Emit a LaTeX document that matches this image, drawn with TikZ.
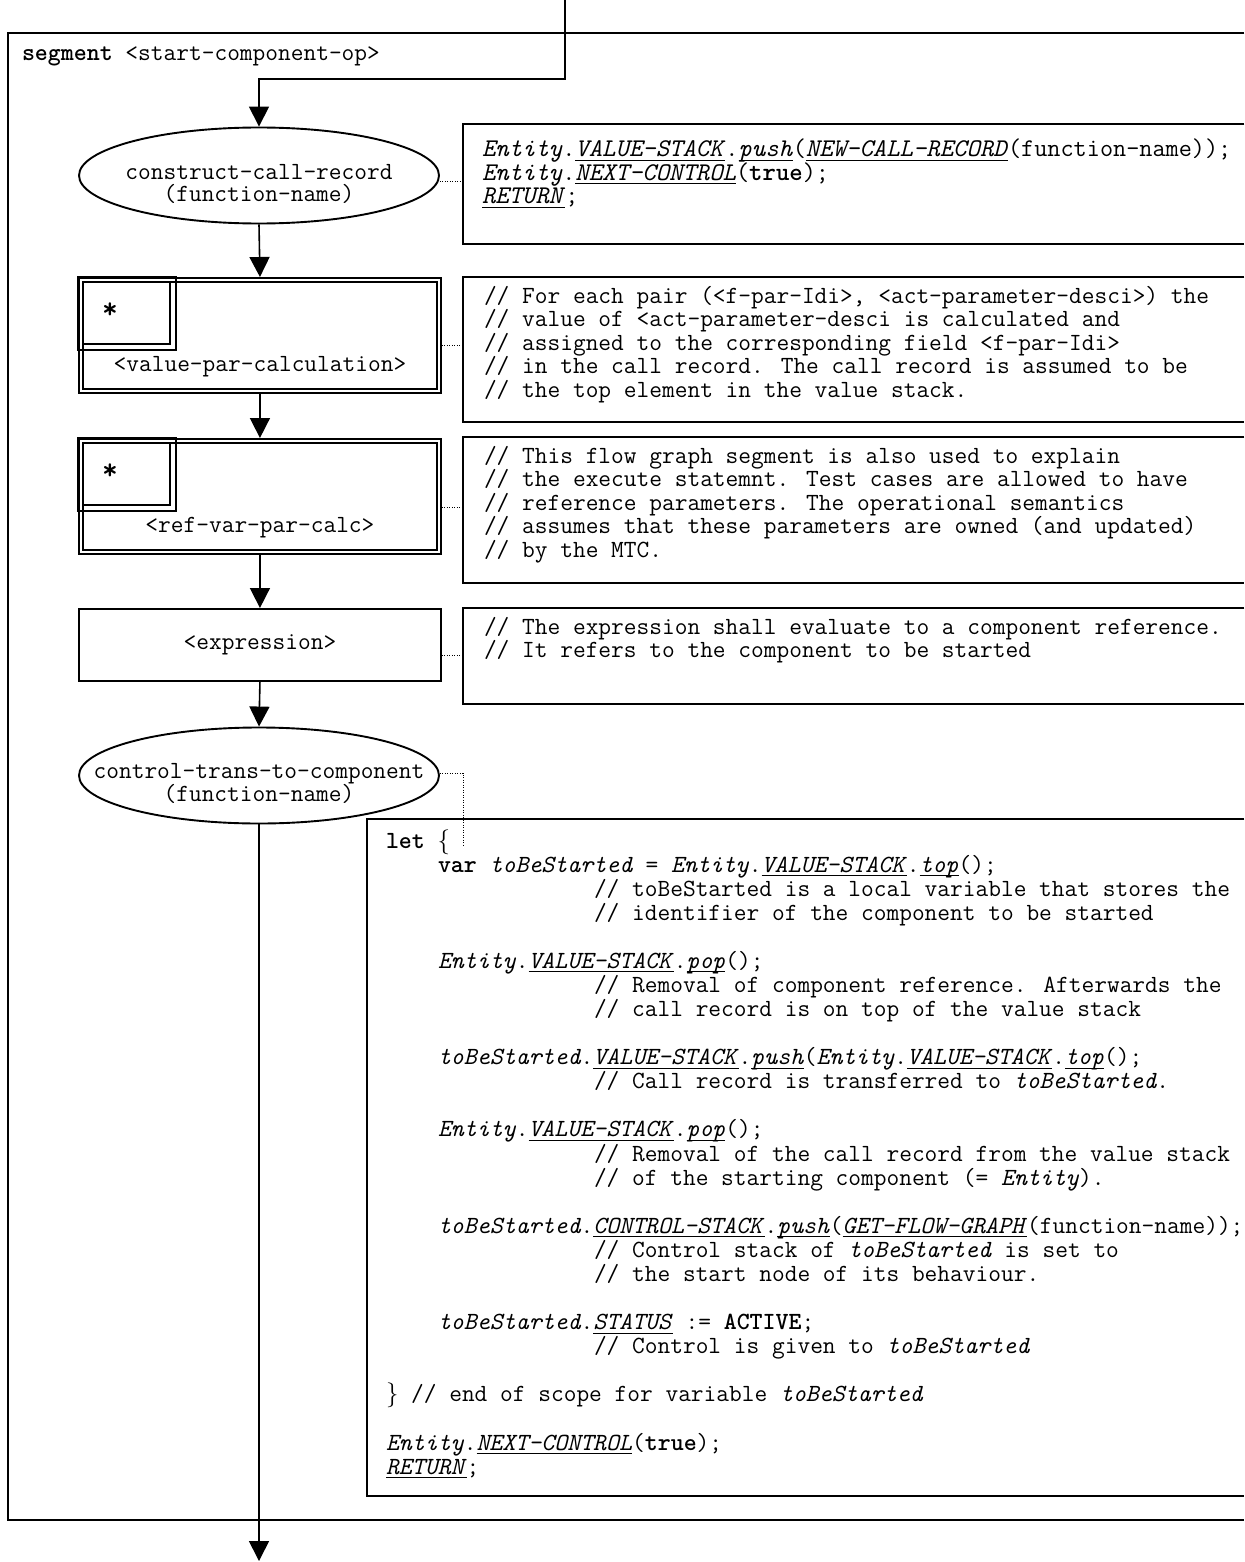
\documentclass[tikz,border=0pt]{standalone}
\usepackage{fontspec}
\usetikzlibrary{shapes.geometric,arrows.meta,calc}
\newsavebox\uibox
\newcommand\ui[1]{\sbox\uibox{\textit{#1}}\rlap{\rule[-4pt]{\wd\uibox}{1.1pt}}\usebox\uibox}
\newcommand\tline[4]{\node[txt] (#1) at (#2,#3) {#4};}
\begin{document}
\begin{tikzpicture}[x=1pt,y=-1pt,
  every node/.style={font=\fontsize{24.7pt}{23.5pt}\selectfont\ttfamily},
  txt/.style={anchor=base west,inner sep=0pt,outer sep=0pt},
  bigtxt/.style={txt,font=\fontsize{25.5pt}{23.5pt}\selectfont\ttfamily},
  arr/.style={line width=1.6pt,-{Triangle[length=20pt,width=20pt]}},
  dots/.style={line width=1pt,dash pattern=on 1pt off 1.5pt},
  frameline/.style={line width=2pt},
  boxline/.style={line width=1.9pt},
  proc/.style={draw,line width=1.9pt,rectangle,minimum width=362pt,inner sep=0pt,anchor=north west},
  oval/.style={draw,line width=1.9pt,ellipse,minimum width=360pt,minimum height=96pt,inner sep=0pt},
  ovaltext/.style={align=center,inner sep=0pt,font=\fontsize{24.7pt}{22pt}\selectfont\ttfamily},
  cbox/.style={rectangle,inner sep=0pt,anchor=north west,minimum width=781pt},
  star/.style={anchor=base,inner sep=0pt,font=\fontsize{30pt}{30pt}\selectfont\ttfamily\bfseries},
]
\useasboundingbox (0,0) rectangle (1244,1562);

% outer frame (open to the right)
\node[rectangle,inner sep=0pt,anchor=north west,minimum width=1236pt,minimum height=1487pt] (frm) at (8,33) {};
\draw[frameline] (frm.north east) -- (frm.north west) -- (frm.south west) -- (frm.south east);
\node[txt] (seg) at (22,61) {\textbf{segment} <start-component-op>};

% flow nodes
\node[oval] (e1) at (259,175.5) {};
\node[ovaltext] (e1t) at ($(e1.center)+(0,8)$) {construct-call-record\\(function-name)};

\node[proc,minimum height=115pt] (m1) at (78,277) {};
\draw[boxline] ($(m1.north west)+(5,5)$) rectangle ($(m1.south east)+(-5,-5)$);
\draw[boxline] (m1.north west) rectangle ++(98,73);
\draw[boxline] ($(m1.north west)+(5,5)$) rectangle ++(87,62);
\node[star] (m1s) at ($(m1.north west)+(32,41)$) {*};
\node[anchor=base,inner sep=0pt] (m1l) at ($(m1.south)+(0,-22)$) {<value-par-calculation>};

\node[proc,minimum height=115pt] (m2) at (78,438) {};
\draw[boxline] ($(m2.north west)+(5,5)$) rectangle ($(m2.south east)+(-5,-5)$);
\draw[boxline] (m2.north west) rectangle ++(98,73);
\draw[boxline] ($(m2.north west)+(5,5)$) rectangle ++(87,62);
\node[star] (m2s) at ($(m2.north west)+(32,41)$) {*};
\node[anchor=base,inner sep=0pt] (m2l) at ($(m2.south)+(0,-22)$) {<ref-var-par-calc>};

\node[proc,minimum height=72pt] (x4) at (78,608) {<expression>};

\node[oval] (e2) at (259,775.5) {};
\node[ovaltext] (e2t) at ($(e2.center)+(0,8)$) {control-trans-to-component\\(function-name)};

% flow connectors
\coordinate (in) at (565,0);
\coordinate (bend) at (565,79);
\coordinate (out) at (259,1561);
\draw[arr] (in) -- (bend) -| (e1.north);
\draw[arr] (e1.south) -- (m1.north);
\draw[arr] (m1.south) -- (m2.north);
\draw[arr] (m2.south) -- (x4.north);
\draw[arr] (x4.south) -- (e2.north);
\draw[arr] (e2.south) -- (out);

% comment boxes
\node[cbox,minimum height=120pt] (c1) at (463,124) {};
\draw[boxline] (c1.north east) -- (c1.north west) -- (c1.south west) -- (c1.south east);
\node[bigtxt] (c1a) at (482,157) {\textit{Entity}.\ui{VALUE-STACK}.\ui{push}(\ui{NEW-CALL-RECORD}(function-name));};
\node[bigtxt] (c1b) at (482,180.5) {\textit{Entity}.\ui{NEXT-CONTROL}(\textbf{true});};
\node[bigtxt] (c1c) at (482,204) {\ui{RETURN};};

\node[cbox,minimum height=145pt] (c2) at (463,277) {};
\draw[boxline] (c2.north east) -- (c2.north west) -- (c2.south west) -- (c2.south east);
\tline{c2a}{484}{303}{// For each pair (<f-par-Idi>, <act-parameter-desci>) the}
\tline{c2b}{484}{326.6}{// value of <act-parameter-desci is calculated and}
\tline{c2c}{484}{350.2}{// assigned to the corresponding field <f-par-Idi>}
\tline{c2d}{484}{373.8}{// in the call record. The call record is assumed to be}
\tline{c2e}{484}{397.4}{// the top element in the value stack.}

\node[cbox,minimum height=146pt] (c3) at (463,437) {};
\draw[boxline] (c3.north east) -- (c3.north west) -- (c3.south west) -- (c3.south east);
\tline{c3a}{484}{463}{// This flow graph segment is also used to explain}
\tline{c3b}{484}{486.6}{// the execute statemnt. Test cases are allowed to have}
\tline{c3c}{484}{510.2}{// reference parameters. The operational semantics}
\tline{c3d}{484}{533.8}{// assumes that these parameters are owned (and updated)}
\tline{c3e}{484}{557.4}{// by the MTC.}

\node[cbox,minimum height=96pt] (c4) at (463,608) {};
\draw[boxline] (c4.north east) -- (c4.north west) -- (c4.south west) -- (c4.south east);
\tline{c4a}{484}{634}{// The expression shall evaluate to a component reference.}
\tline{c4b}{484}{657.6}{// It refers to the component to be started}

% let box
\node[cbox,minimum width=877pt,minimum height=677pt] (let) at (367,819) {};
\draw[boxline] (let.north east) -- (let.north west) -- (let.south west) -- (let.south east);
\tline{l0}{386}{848}{\textbf{let} $\{$}
\tline{l1}{438}{872.08}{\textbf{var} \textit{toBeStarted} = \textit{Entity}.\ui{VALUE-STACK}.\ui{top}();}
\tline{l2}{594}{896.16}{// toBeStarted is a local variable that stores the}
\tline{l3}{594}{920.24}{// identifier of the component to be started}
\tline{l5}{438}{968.4}{\textit{Entity}.\ui{VALUE-STACK}.\ui{pop}();}
\tline{l6}{594}{992.48}{// Removal of component reference. Afterwards the}
\tline{l7}{594}{1016.56}{// call record is on top of the value stack}
\tline{l9}{438}{1064.72}{\textit{toBeStarted}.\ui{VALUE-STACK}.\ui{push}(\textit{Entity}.\ui{VALUE-STACK}.\ui{top}();}
\tline{l10}{594}{1088.8}{// Call record is transferred to \textit{toBeStarted}.}
\tline{l12}{438}{1136.96}{\textit{Entity}.\ui{VALUE-STACK}.\ui{pop}();}
\tline{l13}{594}{1161.04}{// Removal of the call record from the value stack}
\tline{l14}{594}{1185.12}{// of the starting component (= \textit{Entity}).}
\tline{l16}{438}{1233.28}{\textit{toBeStarted}.\ui{CONTROL-STACK}.\ui{push}(\ui{GET-FLOW-GRAPH}(function-name));}
\tline{l17}{594}{1257.36}{// Control stack of \textit{toBeStarted} is set to}
\tline{l18}{594}{1281.44}{// the start node of its behaviour.}
\tline{l20}{438}{1329.6}{\textit{toBeStarted}.\ui{STATUS} := \textbf{ACTIVE};}
\tline{l21}{594}{1353.68}{// Control is given to \textit{toBeStarted}}
\tline{l23}{386}{1401.84}{$\}$ // end of scope for variable \textit{toBeStarted}}
\tline{l25}{386}{1450}{\textit{Entity}.\ui{NEXT-CONTROL}(\textbf{true});}
\tline{l26}{386}{1474.08}{\ui{RETURN};}

% dotted attachment lines
\coordinate (y1) at (0,182);
\coordinate (y2) at (0,345);
\coordinate (y3) at (0,507);
\coordinate (y4) at (0,655);
\coordinate (y5) at (0,773);
\coordinate (dv) at (463,847);
\draw[dots] (e1.east |- y1) -- (c1.west |- y1);
\draw[dots] (m1.east |- y2) -- (c2.west |- y2);
\draw[dots] (m2.east |- y3) -- (c3.west |- y3);
\draw[dots] (x4.east |- y4) -- (c4.west |- y4);
\draw[dots] (e2.east |- y5) -| (dv);
\end{tikzpicture}
\end{document}
